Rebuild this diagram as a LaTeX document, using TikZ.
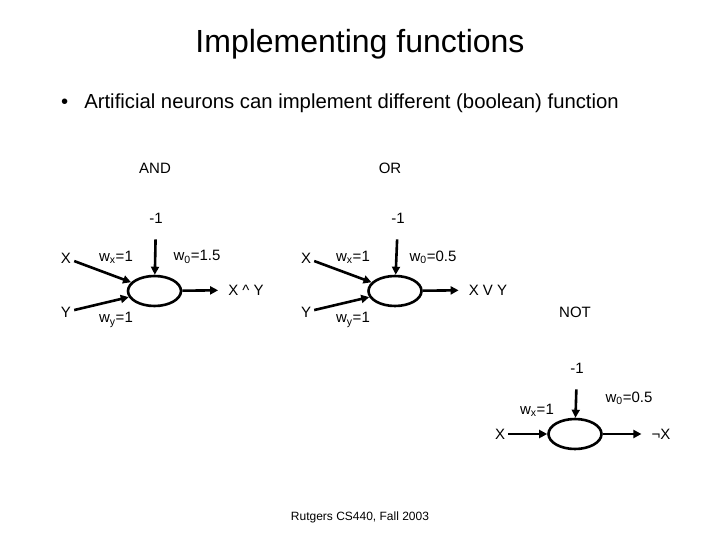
\documentclass[tikz,border=0pt]{standalone}
\usepackage{fontspec}
\setmainfont{Liberation Sans}
\usetikzlibrary{positioning,arrows.meta,shapes.geometric}
\tikzset{
  neuron/.style={draw, ellipse, line width=2.6pt, minimum width=53pt, minimum height=30pt, inner sep=0pt},
  wirearrow/.style={-{Triangle[length=8pt, width=8pt]}, line width=2.6pt},
  lbl/.style={font=\fontsize{15}{17}\selectfont, inner sep=3pt},
  wlbl/.style={font=\fontsize{15}{17}\selectfont, inner sep=0pt}
}

\begin{document}
\begin{tikzpicture}[x=1pt, y=-1pt]
  \useasboundingbox (0,0) rectangle (720,540);
  \node[font=\fontsize{32}{36}\selectfont] (title) at (360,44) {Implementing functions};
  \node[font=\fontsize{20.3}{24}\selectfont, anchor=west, inner sep=0pt] (bullet) at (61,103) {\textbullet\hspace{16pt}Artificial neurons can implement different (boolean) function};

  % AND
  \node[lbl] (andlbl) at (155,168) {AND};
  \node[neuron] (and) at (154.5,291) {};
  \node[lbl] (andx) at (66,258) {X};
  \node[lbl] (andy) at (66,312) {Y};
  \node[lbl] (andb) at (156,218) {-1};
  \node[lbl] (andout) at (246,290) {X \textasciicircum{} Y};
  \node[wlbl] (andwx) at (116,257) {w\textsubscript{x}=1};
  \node[wlbl] (andwy) at (116,320) {w\textsubscript{y}=1};
  \node[wlbl] (andw0) at (197,257) {w\textsubscript{0}=1.5};
  \draw[wirearrow] (andx) -- (and);
  \draw[wirearrow] (andy) -- (and);
  \draw[wirearrow, shorten <=13pt] (andb) -- (and);
  \draw[wirearrow, shorten >=7pt] (and) -- (andout);

  % OR
  \node[lbl] (orlbl) at (390,168) {OR};
  \node[neuron] (or) at (395,291) {};
  \node[lbl] (orx) at (306,258) {X};
  \node[lbl] (ory) at (306,312) {Y};
  \node[lbl] (orb) at (398,218) {-1};
  \node[lbl] (orout) at (488,290) {X V Y};
  \node[wlbl] (orwx) at (353,257) {w\textsubscript{x}=1};
  \node[wlbl] (orwy) at (353,320) {w\textsubscript{y}=1};
  \node[wlbl] (orw0) at (433,257) {w\textsubscript{0}=0.5};
  \draw[wirearrow] (orx) -- (or);
  \draw[wirearrow] (ory) -- (or);
  \draw[wirearrow, shorten <=13pt] (orb) -- (or);
  \draw[wirearrow, shorten >=7pt] (or) -- (orout);

  % NOT
  \node[lbl] (notlbl) at (575,312) {NOT};
  \node[neuron] (not) at (575,434) {};
  \node[lbl] (notx) at (500,434) {X};
  \node[lbl] (notb) at (577,368) {-1};
  \node[lbl] (notout) at (661,434) {¬X};
  \node[wlbl] (notwx) at (537,410) {w\textsubscript{x}=1};
  \node[wlbl] (notw0) at (629,398) {w\textsubscript{0}=0.5};
  \draw[wirearrow] (notx) -- (not);
  \draw[wirearrow, shorten <=13pt] (notb) -- (not);
  \draw[wirearrow, shorten >=7pt] (not) -- (notout);

  \node[font=\fontsize{12}{14}\selectfont] (foot) at (360,517) {Rutgers CS440, Fall 2003};
\end{tikzpicture}
\end{document}
